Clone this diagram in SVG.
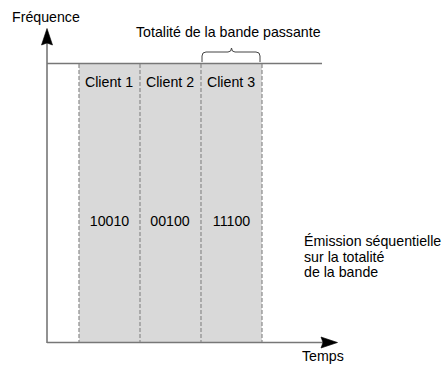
<svg xmlns="http://www.w3.org/2000/svg" width="443" height="365" viewBox="0 0 443 365">
<style>
text{font-family:"Liberation Sans",Arial,sans-serif;font-size:14.2px;fill:#000}
.axis{stroke:#777;stroke-width:1.6;fill:none}
.dash{stroke:#8a8a8a;stroke-width:1.2;stroke-dasharray:4 2;fill:none}
.col{fill:#d9d9d9}
</style>
<rect width="443" height="365" fill="#fff"/>
<g id="bands">
<rect class="col" x="79" y="63" width="183" height="279"/>
</g>
<g id="connectors">
<line class="axis" x1="47" y1="343" x2="47" y2="42"/>
<polygon points="47,28.5 52.5,45 47,43 41.5,45" fill="#000" stroke="#000" stroke-width="0.6"/>
<line class="axis" x1="47" y1="342.5" x2="324" y2="342.5"/>
<polygon points="337.5,342.5 321,337 323,342.5 321,348" fill="#000" stroke="#000" stroke-width="0.6"/>
<line class="axis" x1="47" y1="63.5" x2="322" y2="63.5"/>
<line class="dash" x1="79" y1="64" x2="79" y2="342"/>
<line class="dash" x1="140" y1="64" x2="140" y2="342"/>
<line class="dash" x1="201" y1="64" x2="201" y2="342"/>
<line class="dash" x1="262" y1="64" x2="262" y2="342"/>
<path d="M202,62 L202,56 Q202,52 206,52 L228,52 Q231.5,52 231.5,48 Q231.5,52 235,52 L256,52 Q260,52 260,56 L260,62" fill="none" stroke="#444" stroke-width="1"/>
</g>
<g id="labels">
<text x="12" y="22">Fréquence</text>
<text x="136" y="37">Totalité de la bande passante</text>
<text x="302" y="361">Temps</text>
</g>
<g id="client1"><text x="109" y="87" text-anchor="middle">Client 1</text><text x="109.5" y="226" text-anchor="middle">10010</text></g>
<g id="client2"><text x="170" y="87" text-anchor="middle">Client 2</text><text x="170" y="226" text-anchor="middle">00100</text></g>
<g id="client3"><text x="231" y="87" text-anchor="middle">Client 3</text><text x="231.5" y="226" text-anchor="middle">11100</text></g>
<g id="note">
<text x="304" y="246">Émission séquentielle</text>
<text x="304" y="262">sur la totalité</text>
<text x="304" y="277">de la bande</text>
</g>
</svg>
